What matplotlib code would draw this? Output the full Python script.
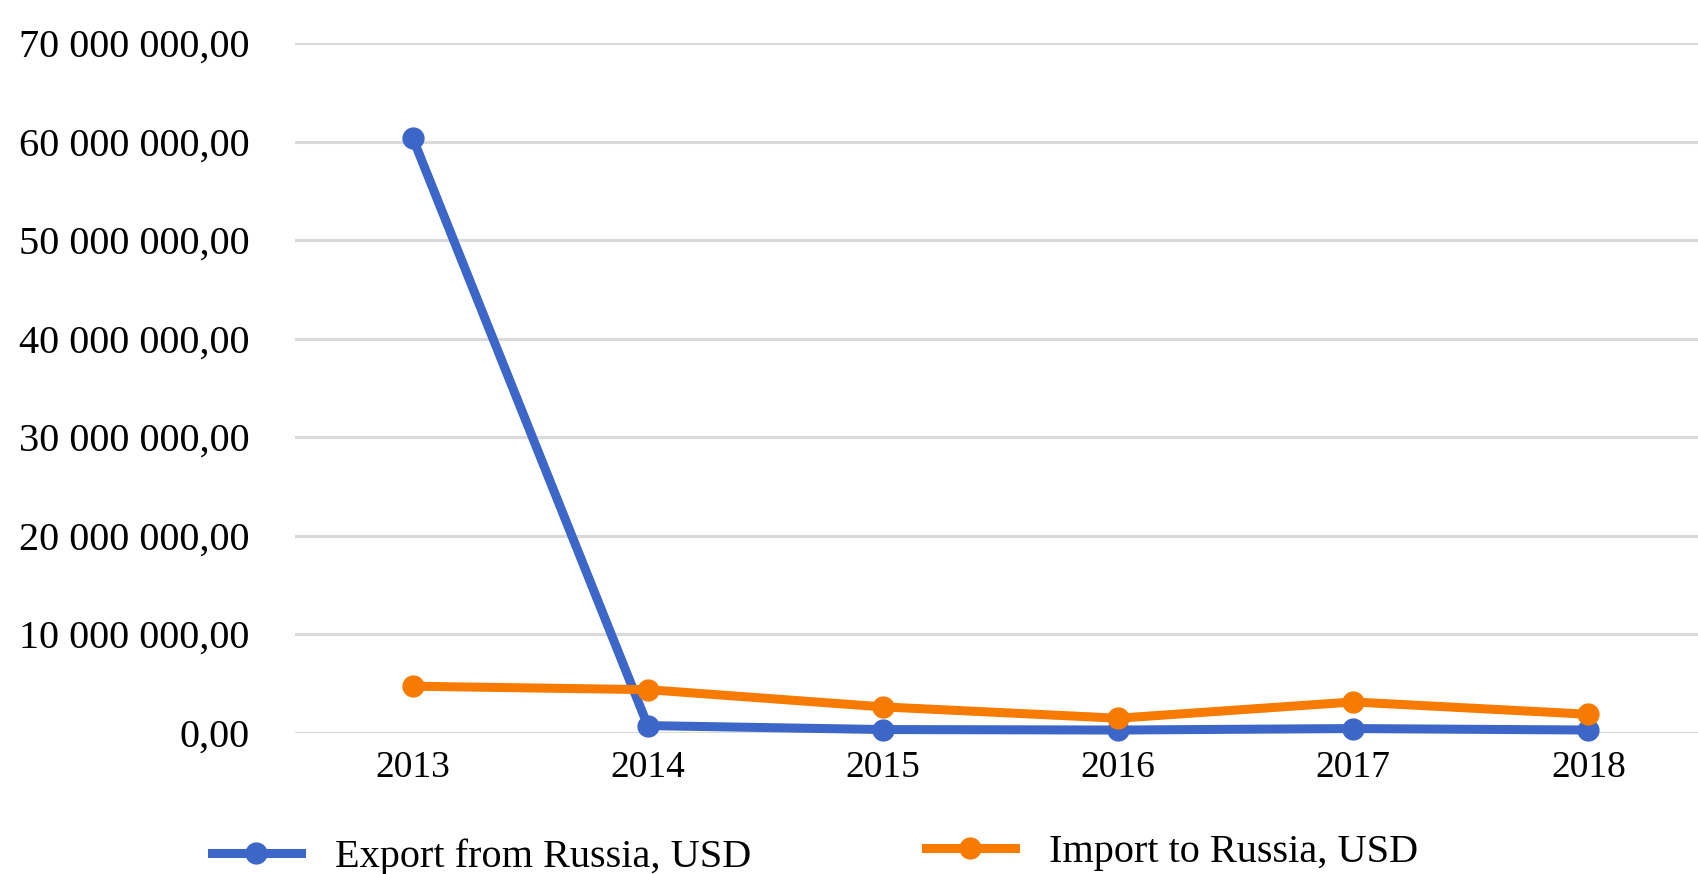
import matplotlib
matplotlib.use("Agg")
import matplotlib.pyplot as plt
from matplotlib.lines import Line2D

years = [2013, 2014, 2015, 2016, 2017, 2018]
export_usd = [60_400_000, 700_000, 300_000, 250_000, 400_000, 250_000]
import_usd = [4_700_000, 4_350_000, 2_600_000, 1_450_000, 3_100_000, 1_850_000]
y_ticks = [0, 10_000_000, 20_000_000, 30_000_000, 40_000_000, 50_000_000, 60_000_000, 70_000_000]
series_labels = ["Export from Russia, USD", "Import to Russia, USD"]

BLUE = "#3D66C9"
ORANGE = "#F67B00"

plt.rcParams['font.family'] = ['Liberation Serif', 'DejaVu Serif']

W, H = 1699, 874
fig = plt.figure(figsize=(W / 100, H / 100), dpi=100)
left, right = 295 / W, 1.0
bottom, top = 1 - 732.5 / H, 1 - 43 / H
ax = fig.add_axes([left, bottom, right - left, top - bottom])

LW, MS = 6.5, 15
x = list(range(len(years)))
ax.plot(x, export_usd, color=BLUE, lw=LW, marker='o', ms=MS, clip_on=False, zorder=3,
        solid_capstyle='round')
ax.plot(x, import_usd, color=ORANGE, lw=LW, marker='o', ms=MS, clip_on=False, zorder=4,
        solid_capstyle='round')

ax.set_xlim(-0.5, len(years) - 0.53)
ax.set_ylim(0, 70_000_000)
ax.set_yticks(y_ticks)

def fmt(v):
    s = f"{int(v):,}".replace(",", " ")
    return s + ",00"

ax.set_yticklabels([fmt(v) for v in y_ticks], fontsize=29)
ax.set_xticks(x)
ax.set_xticklabels([str(y) for y in years], fontsize=27)
ax.tick_params(axis='y', length=0, pad=33)
ax.tick_params(axis='x', length=0, pad=13)
ax.grid(axis='y', color='#DADADA', lw=2.2)
ax.set_axisbelow(True)
for s in ax.spines.values():
    s.set_visible(False)

h1 = Line2D([], [], color=BLUE, lw=LW, marker='o', ms=MS)
h2 = Line2D([], [], color=ORANGE, lw=LW, marker='o', ms=MS)
fig.legend([h1], [series_labels[0]], loc='center left',
           bbox_to_anchor=(212 / W, 1 - 857 / H), frameon=False, fontsize=29,
           handlelength=2.2, handletextpad=0.85, borderpad=0, borderaxespad=0)
fig.legend([h2], [series_labels[1]], loc='center left',
           bbox_to_anchor=(926 / W, 1 - 852 / H), frameon=False, fontsize=29,
           handlelength=2.2, handletextpad=0.85, borderpad=0, borderaxespad=0)

fig.savefig("out.png", dpi=100, facecolor='white')
